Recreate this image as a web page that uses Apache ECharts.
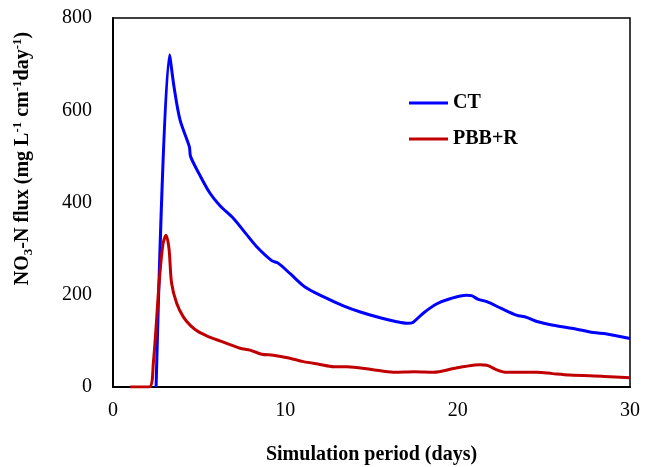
<!DOCTYPE html>
<html>
<head>
  <meta charset="utf-8">
  <title>NO3-N flux</title>
  <script src="https://cdn.jsdelivr.net/npm/echarts@6/dist/echarts.min.js"></script>
  <style>
    html, body { margin: 0; padding: 0; background: #fff; }
    #chart { width: 646px; height: 467px; }
  </style>
</head>
<body>
<div id="chart"></div>
<script type="text/javascript">
  // values
  var ctDays = [2.5, 3.28, 3.54, 3.89, 4.43, 4.5, 5.0, 5.63, 6.21, 6.98, 7.7, 8.34, 9.21, 9.6, 10.3, 11.14, 12.2, 13.37, 14.4, 15.5, 16.4, 17.1, 17.4, 18.0, 18.77, 19.6, 20.5, 20.8, 21.2, 21.7, 22.5, 23.4, 24.0, 24.6, 25.55, 26.7, 27.87, 28.65, 30];
  var ctFlux = [0, 720, 651, 579, 521, 500, 462, 420, 393, 366, 333, 304, 274, 268, 245, 217, 196, 176, 162, 150, 142, 138, 140, 160, 180, 192, 199, 198, 190, 185, 171, 156, 151, 142, 134, 127, 118, 115, 105];

  var pbbDays = [1.0, 2.1, 2.34, 2.69, 2.9, 3.08, 3.25, 3.4, 3.7, 4.08, 4.5, 4.95, 5.5, 6.2, 7.37, 7.95, 8.63, 9.3, 10.2, 11.05, 12.0, 12.8, 13.56, 15.0, 16.27, 17.5, 18.6, 19.76, 20.5, 21.3, 21.7, 22.27, 22.75, 24.6, 25.5, 26.5, 28.5, 30];
  var pbbFlux = [0, 0, 52, 232, 310, 329, 300, 225, 181, 152, 133, 120, 110, 100, 84, 80, 71, 69, 63, 55, 49, 44, 44, 38, 32, 33, 32, 40, 45, 48, 47, 37, 32, 32, 29, 26, 23, 20];

  var seriesNames = ['CT', 'PBB+R'];
  var seriesColors = ['#0000FF', '#C00000'];

  function pairs(xs, ys) {
    return xs.map(function (x, i) { return [x, ys[i]]; });
  }

  var font = 'Liberation Serif, Times New Roman, serif';
  var chart = echarts.init(document.getElementById('chart'));

  var option = {
    animation: false,
    backgroundColor: '#fff',
    grid: {
      left: 113, top: 18, right: 16, bottom: 80,
      outerBoundsMode: 'none',
      show: true, borderColor: '#000', borderWidth: 1.5
    },
    legend: {
      orient: 'vertical',
      left: 404,
      top: 88,
      icon: 'rect',
      itemWidth: 39,
      itemHeight: 3,
      itemGap: 16,
      data: seriesNames,
      textStyle: { fontFamily: font, fontSize: 20, fontWeight: 'bold', color: '#000' }
    },
    xAxis: {
      type: 'value',
      min: 0, max: 30, interval: 10,
      name: 'Simulation period (days)',
      nameLocation: 'middle',
      nameGap: 58,
      nameTextStyle: { fontFamily: font, fontSize: 20, fontWeight: 'bold', color: '#000' },
      axisLine: { show: true, onZero: false, lineStyle: { color: '#000', width: 2 } },
      axisTick: { show: false },
      splitLine: { show: false },
      axisLabel: { fontFamily: font, fontSize: 20, color: '#000', margin: 14 }
    },
    yAxis: {
      type: 'value',
      min: 0, max: 800, interval: 200,
      name: '{b|NO}{sub|3}{b|-N flux (mg L}{sup|-1}{b| cm}{sup|-1}{b|day}{sup|-1}{b|)}',
      nameLocation: 'middle',
      nameRotate: 90,
      nameGap: 78,
      nameTextStyle: {
        fontFamily: font, fontSize: 20, fontWeight: 'bold', color: '#000',
        padding: [0, 0, 0, 88],
        rich: {
          b: { fontFamily: font, fontSize: 20, fontWeight: 'bold', color: '#000', lineHeight: 24 },
          sub: { fontFamily: font, fontSize: 13, fontWeight: 'bold', color: '#000', lineHeight: 24, verticalAlign: 'bottom' },
          sup: { fontFamily: font, fontSize: 13, fontWeight: 'bold', color: '#000', lineHeight: 24, verticalAlign: 'top' }
        }
      },
      axisLine: { show: true, lineStyle: { color: '#000', width: 2 } },
      axisTick: { show: false },
      splitLine: { show: false },
      axisLabel: { fontFamily: font, fontSize: 20, color: '#000', margin: 21 }
    },
    series: [
      {
        name: seriesNames[0],
        type: 'line',
        data: pairs(ctDays, ctFlux),
        symbol: 'none',
        smooth: 0.3,
        color: seriesColors[0],
        lineStyle: { width: 3, color: seriesColors[0] }
      },
      {
        name: seriesNames[1],
        type: 'line',
        data: pairs(pbbDays, pbbFlux),
        symbol: 'none',
        smooth: 0.3,
        color: seriesColors[1],
        lineStyle: { width: 3, color: seriesColors[1] }
      }
    ]
  };
  chart.setOption(option);
</script>
</body>
</html>
